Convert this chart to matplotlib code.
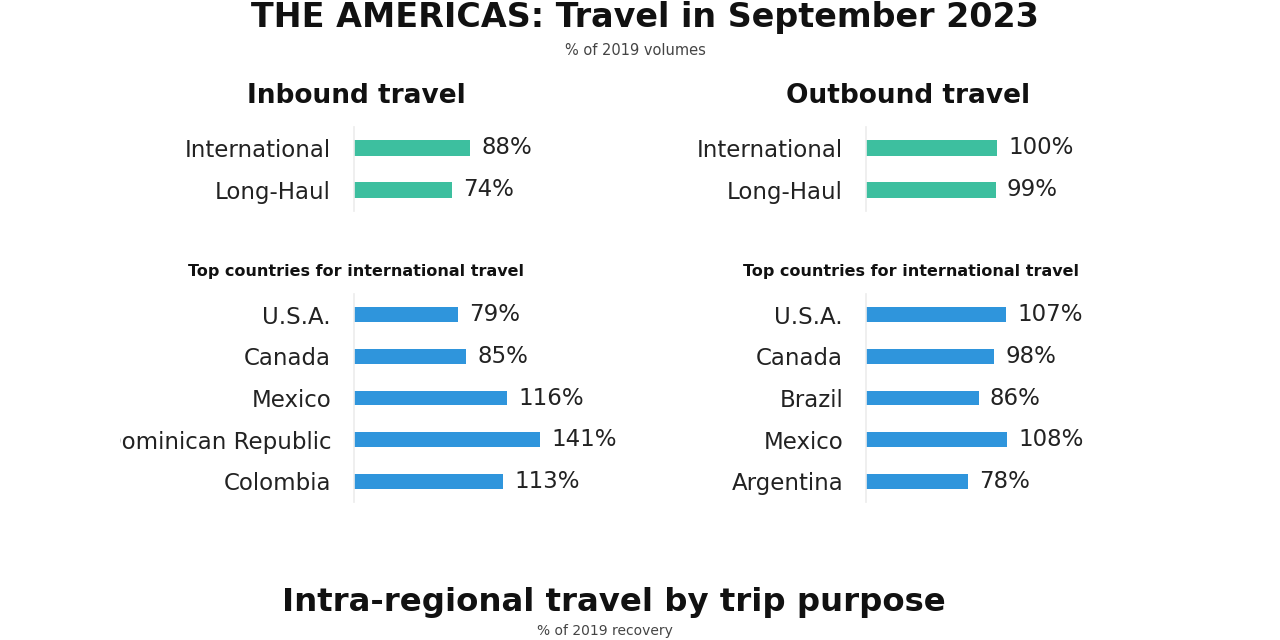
import matplotlib.pyplot as plt
from matplotlib.transforms import Bbox, TransformedBbox

# --- data ---
summary_labels = ["International", "Long-Haul"]
inbound_summary = [88, 74]
outbound_summary = [100, 99]

inbound_countries = ["U.S.A.", "Canada", "Mexico", "Dominican Republic", "Colombia"]
inbound_country_vals = [79, 85, 116, 141, 113]
outbound_countries = ["U.S.A.", "Canada", "Brazil", "Mexico", "Argentina"]
outbound_country_vals = [107, 98, 86, 108, 78]

TEAL = "#3dbf9f"
BLUE = "#2f95dc"
W, H = 1280, 640


def px_axes(fig, left, top, width, height):
    """Add axes using pixel coords measured from the top-left corner."""
    return fig.add_axes([left / W, 1 - (top + height) / H, width / W, height / H])


def bar_panel(ax, labels, vals, color, px_per_unit, width_px):
    ys = range(len(labels))
    bars = ax.barh(ys, vals, height=0.36, color=color)
    ax.set_xlim(0, width_px / px_per_unit)
    ax.set_ylim(len(labels) - 0.5, -0.5)
    ax.set_yticks(list(ys))
    ax.set_yticklabels(labels, fontsize=16.5, color="#222222")
    ax.set_xticks([])
    ax.tick_params(axis="y", length=0, pad=16.5)
    for side in ["top", "right", "bottom"]:
        ax.spines[side].set_visible(False)
    ax.spines["left"].set_color("#ececec")
    ax.spines["left"].set_linewidth(1.2)
    ax.bar_label(bars, fmt="{:.0f}%", padding=8, fontsize=16.5, color="#222222")
    ax.patch.set_alpha(0)
    return ax


fig = plt.figure(figsize=(12.8, 6.4), dpi=100)
fig.patch.set_facecolor("white")

# headings
fig.text(645 / W, 1 - 27 / H, "THE AMERICAS: Travel in September 2023", ha="center",
         va="baseline", fontsize=24, fontweight="bold", color="#111111")
fig.text(635 / W, 1 - 55 / H, "% of 2019 volumes", ha="center", va="baseline",
         fontsize=10.5, color="#444444")
fig.text(356 / W, 1 - 103 / H, "Inbound travel", ha="center", va="baseline",
         fontsize=19, fontweight="bold", color="#111111")
fig.text(908 / W, 1 - 103 / H, "Outbound travel", ha="center", va="baseline",
         fontsize=19, fontweight="bold", color="#111111")
fig.text(356 / W, 1 - 276 / H, "Top countries for international travel", ha="center",
         va="baseline", fontsize=11.5, fontweight="bold", color="#111111")
fig.text(911 / W, 1 - 276 / H, "Top countries for international travel", ha="center",
         va="baseline", fontsize=11.5, fontweight="bold", color="#111111")
fig.text(614 / W, 1 - 611 / H, "Intra-regional travel by trip purpose", ha="center",
         va="baseline", fontsize=23.3, fontweight="bold", color="#111111")
fig.text(605 / W, 1 - 635 / H, "% of 2019 recovery", ha="center", va="baseline",
         fontsize=10, color="#444444")

# inbound
ax1 = px_axes(fig, 354, 127, 250, 84)
bar_panel(ax1, summary_labels, inbound_summary, TEAL, 1.32, 250)
ax2 = px_axes(fig, 354, 294, 250, 208)
bar_panel(ax2, inbound_countries, inbound_country_vals, BLUE, 1.32, 250)

# outbound
ax3 = px_axes(fig, 866, 127, 250, 84)
bar_panel(ax3, summary_labels, outbound_summary, TEAL, 1.31, 250)
ax4 = px_axes(fig, 866, 294, 250, 208)
bar_panel(ax4, outbound_countries, outbound_country_vals, BLUE, 1.31, 250)

# the reference crops the long label on the left edge
clip = TransformedBbox(Bbox([[120 / W, 0], [1, 1]]), fig.transFigure)
for lbl in ax2.get_yticklabels():
    lbl.set_clip_box(clip)
    lbl.set_clip_on(True)

fig.savefig("out.png", dpi=100, facecolor="white")
